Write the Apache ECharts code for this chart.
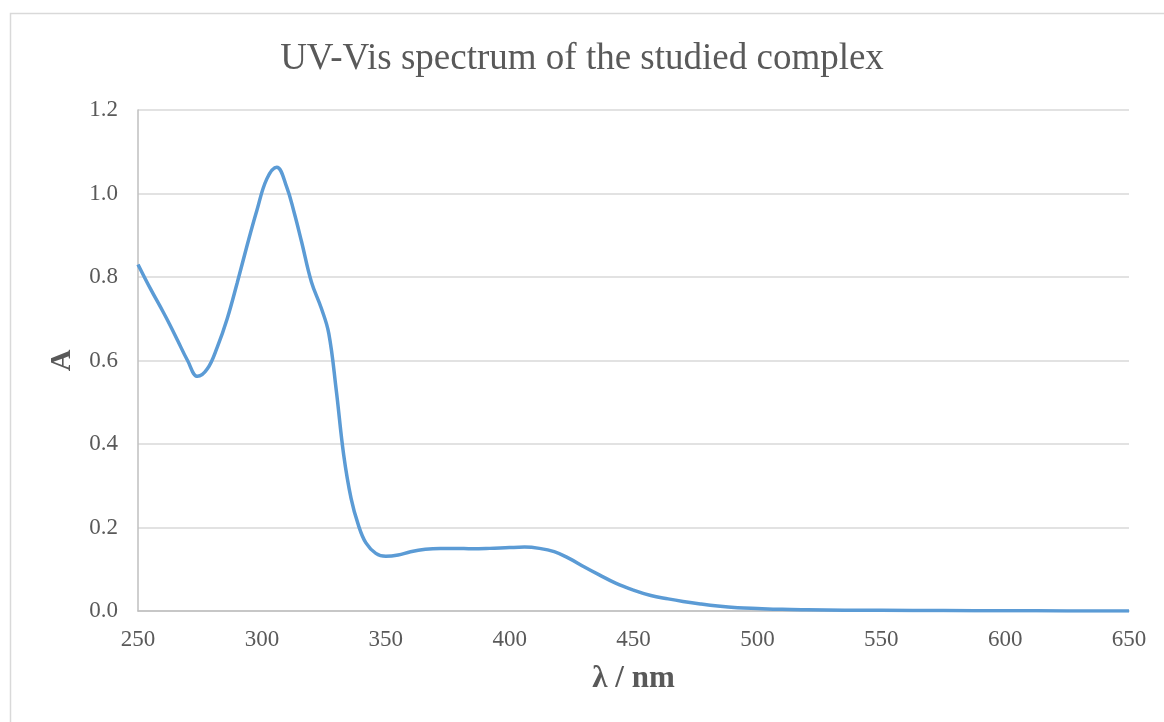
<!DOCTYPE html>
<html>
<head>
<meta charset="utf-8">
<script src="https://cdn.jsdelivr.net/npm/echarts@6/dist/echarts.min.js"></script>
<style>
html,body{margin:0;padding:0;background:#fff;}
#chart{width:1164px;height:722px;}
</style>
</head>
<body>
<div id="chart"></div>
<script>
const title = "UV-Vis spectrum of the studied complex";
const xName = "λ / nm";
const yName = "A";
const wavelengths = [250,255,260,263,266,270,274,278,282,286,290,294,298,302,306,310,313,316,320,324,327,330,333,336,339,342,346,350,355,360,366,372,378,385,392,400,406,412,418,424,430,436,443,450,457,464,470,477,484,492,500,510,520,535,550,575,600,625,650];
const absorbance = [0.830,0.772,0.718,0.684,0.648,0.600,0.562,0.580,0.632,0.700,0.785,0.875,0.960,1.035,1.063,1.016,0.955,0.885,0.788,0.725,0.665,0.530,0.375,0.270,0.205,0.163,0.138,0.131,0.134,0.142,0.148,0.150,0.150,0.149,0.150,0.152,0.153,0.150,0.142,0.126,0.106,0.087,0.066,0.050,0.037,0.029,0.023,0.017,0.012,0.008,0.006,0.004,0.003,0.002,0.0015,0.001,0.0005,0.0002,0.0];
const xTicks = [250,300,350,400,450,500,550,600,650];
const yTicks = [0.0,0.2,0.4,0.6,0.8,1.0,1.2];

const chart = echarts.init(document.getElementById('chart'));
const font = "'Liberation Serif','Times New Roman',serif";
chart.setOption({
  animation:false,
  backgroundColor:'#fff',
  graphic:[{type:'rect',shape:{x:10.5,y:13.5,width:1200,height:800},style:{fill:'none',stroke:'#d9d9d9',lineWidth:1.5},silent:true}],
  title:{text:title,left:'center',top:36,textStyle:{fontFamily:font,fontSize:37,fontWeight:'normal',color:'#595959'}},
  grid:{left:138,right:35,top:110,bottom:111,containLabel:false},
  xAxis:{type:'value',min:xTicks[0],max:xTicks[xTicks.length-1],interval:50,
    name:xName,nameLocation:'middle',nameGap:52,
    nameTextStyle:{fontFamily:font,fontSize:31,fontWeight:'bold',color:'#595959'},
    axisLine:{show:true,lineStyle:{color:'#bfbfbf',width:1.5}},
    axisTick:{show:false},
    axisLabel:{fontFamily:font,fontSize:23,color:'#595959',margin:17},
    splitLine:{show:false}},
  yAxis:{type:'value',min:yTicks[0],max:yTicks[yTicks.length-1],interval:0.2,
    name:yName,nameLocation:'middle',nameGap:61,nameRotate:90,
    nameTextStyle:{fontFamily:font,fontSize:30,fontWeight:'bold',color:'#595959'},
    axisLine:{show:true,lineStyle:{color:'#bfbfbf',width:1.5}},
    axisTick:{show:false},
    axisLabel:{fontFamily:font,fontSize:23,color:'#595959',margin:20,formatter:v=>v.toFixed(1)},
    splitLine:{show:true,lineStyle:{color:'#d9d9d9',width:1.5}}},
  series:[{type:'line',data:wavelengths.map((w,i)=>[w,absorbance[i]]),smooth:0.4,showSymbol:false,
    lineStyle:{color:'#5b9bd5',width:3.5}}]
});
</script>
</body>
</html>
